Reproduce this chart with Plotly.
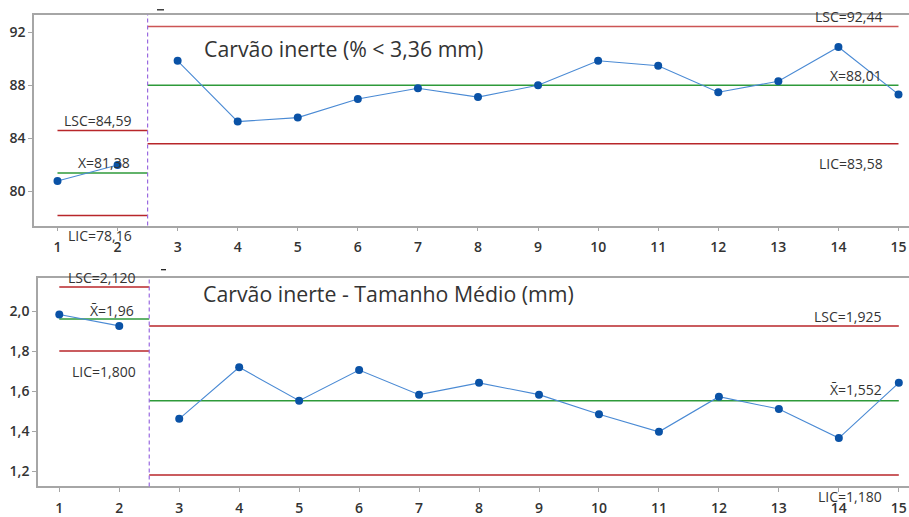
import plotly.graph_objects as go

W, H = 909, 517

# ---- data ----
samples = list(range(1, 16))

# Carvão inerte (% < 3,36 mm)
pct_values = [80.78, 81.98, 89.85, 85.26, 85.56, 86.96, 87.78, 87.11, 88.00,
              89.85, 89.48, 87.48, 88.30, 90.89, 87.31]
pct_phase1 = {"LSC": 84.59, "X": 81.38, "LIC": 78.16}
pct_phase2 = {"LSC": 92.44, "X": 88.01, "LIC": 83.58}
pct_ticks = [80, 84, 88, 92]

# Carvão inerte - Tamanho Médio (mm)
size_values = [1.983, 1.926, 1.461, 1.719, 1.552, 1.705, 1.582, 1.641, 1.582,
               1.484, 1.396, 1.572, 1.510, 1.365, 1.641]
size_phase1 = {"LSC": 2.120, "X": 1.96, "LIC": 1.800}
size_phase2 = {"LSC": 1.925, "X": 1.552, "LIC": 1.180}
size_ticks = [1.2, 1.4, 1.6, 1.8, 2.0]

phase_split = 2.5

# ---- styling ----
FONT = "Open Sans"
TXT = "#333333"
AXIS = "#a6a6a6"
MARK = "#0a52a6"
LINE = "#4a8ad4"
RED = "#b8262a"
RED_LIGHT = "#cc5555"
GREEN = "#2e9a3a"
PURPLE = "#9a6ae0"


def comma(v, nd):
    return f"{v:.{nd}f}".replace(".", ",")


def py(pix):
    return 1 - pix / H


fig = go.Figure()

panels = [
    dict(x="x", y="y", vals=pct_values, p1=pct_phase1, p2=pct_phase2),
    dict(x="x2", y="y2", vals=size_values, p1=size_phase1, p2=size_phase2),
]

for i, p in enumerate(panels):
    xr, yr = p["x"], p["y"]
    # control limits for each phase
    for (x0, x1, lims, first) in [(1, phase_split, p["p1"], True),
                                  (phase_split, 15, p["p2"], False)]:
        for key, col in [("LSC", RED), ("X", GREEN), ("LIC", RED)]:
            c = col
            if key == "LSC" and i == 0 and not first:
                c = RED_LIGHT
            fig.add_trace(go.Scatter(
                x=[x0, x1], y=[lims[key], lims[key]], mode="lines",
                line=dict(color=c, width=1.5), xaxis=xr, yaxis=yr,
                hoverinfo="skip", showlegend=False))
    # observations, split by phase
    for idx in [(0, 2), (2, 15)]:
        fig.add_trace(go.Scatter(
            x=samples[idx[0]:idx[1]], y=p["vals"][idx[0]:idx[1]],
            mode="lines+markers",
            line=dict(color=LINE, width=1.1),
            marker=dict(color=MARK, size=8),
            xaxis=xr, yaxis=yr, showlegend=False))

# phase divider
for xr, yr in [("x", "y domain"), ("x2", "y2 domain")]:
    fig.add_shape(type="line", xref=xr, yref=yr, x0=phase_split,
                  x1=phase_split, y0=0, y1=1,
                  line=dict(color=PURPLE, width=1.2, dash="4px,3px"))

# small overbar strokes left above each panel frame
for x0, x1, yy in [(157, 164, 10), (161, 166, 275)]:
    fig.add_shape(type="line", xref="paper", yref="paper", x0=x0 / W,
                  x1=x1 / W, y0=py(yy), y1=py(yy),
                  line=dict(color="#222222", width=1.3))

# limit labels
lab_font = dict(family=FONT, size=14, color=TXT)


def label(text, x, y, xr, yr, yshift=0):
    fig.add_annotation(text=text, x=x, y=y, xref=xr, yref=yr,
                       showarrow=False, font=lab_font, yshift=yshift,
                       xanchor="center", yanchor="middle")


label("LSC=" + comma(pct_phase1["LSC"], 2), 1.674, 85.33, "x", "y")
label("X=" + comma(pct_phase1["X"], 2), 1.774, 82.15, "x", "y")
label("LIC=" + comma(pct_phase1["LIC"], 2), 1.707, 0, "x", "y domain",
      yshift=-10)
label("LSC=" + comma(pct_phase2["LSC"], 2), 14.16, 93.19, "x", "y")
label("X=" + comma(pct_phase2["X"], 2), 14.29, 88.74, "x", "y")
label("LIC=" + comma(pct_phase2["LIC"], 2), 14.21, 82.07, "x", "y")

label("LSC=" + comma(size_phase1["LSC"], 3), 1.712, 1, "x2", "y2 domain")
label("X\u0304=" + comma(size_phase1["X"], 2), 1.879, 2.0015, "x2", "y2")
label("LIC=" + comma(size_phase1["LIC"], 3), 1.745, 1.697, "x2", "y2")
label("LSC=" + comma(size_phase2["LSC"], 3), 14.15, 1.972, "x2", "y2")
label("X\u0304=" + comma(size_phase2["X"], 3), 14.28, 1.609, "x2", "y2")
label("LIC=" + comma(size_phase2["LIC"], 3), 14.18, 0, "x2", "y2 domain",
      yshift=-10)

# panel titles
title_font = dict(family=FONT, size=21.3, color=TXT)
fig.add_annotation(text="Carvão inerte (% < 3,36 mm)", xref="paper",
                   yref="paper", x=202 / W, y=py(49), xanchor="left",
                   yanchor="middle", showarrow=False, font=title_font)
fig.add_annotation(text="Carvão inerte - Tamanho Médio (mm)", xref="paper",
                   yref="paper", x=201 / W, y=py(299), xanchor="left",
                   yanchor="middle", showarrow=False, font=title_font)

tick_font = dict(family=FONT, size=14, color=TXT, weight=600)
xcommon = dict(tickmode="array", tickvals=samples,
               ticktext=[str(s) for s in samples], ticks="outside",
               ticklen=4, tickcolor=AXIS, showline=True, linecolor=AXIS,
               linewidth=1.5, mirror=True, showgrid=False, zeroline=False,
               tickfont=tick_font, ticklabelstandoff=4)
ycommon = dict(ticks="outside", ticklen=4, tickcolor=AXIS, showline=True,
               linecolor=AXIS, linewidth=1.5, showgrid=False, zeroline=False,
               tickfont=tick_font)

fig.update_layout(
    width=W, height=H,
    margin=dict(l=0, r=0, t=0, b=0),
    paper_bgcolor="white", plot_bgcolor="white",
    showlegend=False,
    xaxis=dict(domain=[34 / W, 1], range=[0.609, 15.175], anchor="y",
               **xcommon),
    yaxis=dict(domain=[py(230), py(15)], range=[77.41, 93.33], anchor="x",
               tickvals=pct_ticks, ticktext=[str(t) for t in pct_ticks],
               **ycommon),
    xaxis2=dict(domain=[38 / W, 1], range=[0.645, 15.17], anchor="y2",
                **xcommon),
    yaxis2=dict(domain=[py(496), py(283)], range=[1.123, 2.168], anchor="x2",
                tickvals=size_ticks,
                ticktext=[comma(t, 1) for t in size_ticks], **ycommon),
)

fig.write_html("out.html")
